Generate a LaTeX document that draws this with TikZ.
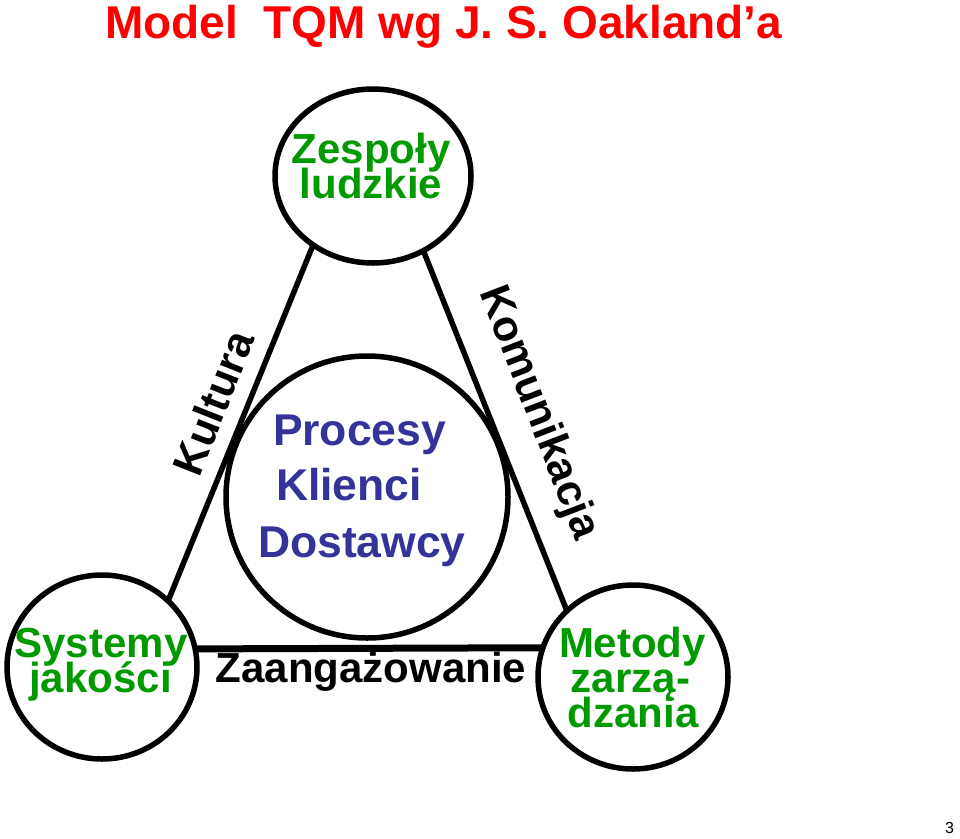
\documentclass[tikz,border=0pt]{standalone}
\usepackage{fontspec}
\setmainfont{Liberation Sans}
\usetikzlibrary{shapes.geometric}
\definecolor{tqmred}{RGB}{255,0,0}
\definecolor{tqmgreen}{RGB}{0,153,0}
\definecolor{tqmblue}{RGB}{51,51,153}
\begin{document}
\begin{tikzpicture}[x=1pt,y=-1pt,
  ring/.style={draw=black,line width=5.5pt,ellipse,inner sep=0pt,outer sep=0pt},
  link/.style={draw=black,line width=5.5pt},
  txt/.style={inner sep=0pt,outer sep=0pt,font=\bfseries\fontsize{42}{42}\selectfont},
  green/.style={txt,text=tqmgreen,anchor=base},
  blue/.style={txt,text=tqmblue,anchor=base west,font=\bfseries\fontsize{44.5}{44.5}\selectfont},
  lab/.style={txt,text=black,font=\bfseries\fontsize{43}{43}\selectfont}]
\useasboundingbox[fill=white] (0,0) rectangle (960,838);
% title
\node[txt,text=tqmred,anchor=base west,font=\bfseries\fontsize{46}{46}\selectfont] (title) at (105,38) {Model\ \ TQM wg J. S. Oakland’a};
% ellipses
\node[ring,minimum width=196pt,minimum height=174pt] (top) at (373,176) {};
\node[ring,minimum width=282pt,minimum height=282pt] (mid) at (367,497) {};
\node[ring,minimum width=190pt,minimum height=184pt] (bl) at (102,667) {};
\node[ring,minimum width=190pt,minimum height=184pt] (br) at (633,677) {};
% connectors
\draw[link] (top.229.6) -- (bl.45);
\draw[link] (top.304.4) -- (br.135.4);
\draw[link,line width=7pt] (bl.11.5) -- (br.162);
% texts
\node[green] (t1) at (371,163) {Zespoły};
\node[green] (t2) at (371,198) {ludzkie};
\node[blue] (m1) at (273,445) {Procesy};
\node[blue] (m2) at (276,500) {Klienci};
\node[blue] (m3) at (258,557) {Dostawcy};
\node[green] (s1) at (101,657) {Systemy};
\node[green] (s2) at (100.5,692) {jakości};
\node[green] (z1) at (632.5,657) {Metody};
\node[green] (z2) at (630.5,692) {zarzą-};
\node[green] (z3) at (633,727) {dzania};
\node[lab,rotate=68.4] (kult) at (213,403) {Kultura};
\node[lab,rotate=-68.9] (kom) at (538,413) {Komunikacja};
\node[lab,anchor=base,font=\bfseries\fontsize{42}{42}\selectfont] (zaang) at (371,682) {Zaangażowanie};
\node[inner sep=0pt,anchor=base west,font=\fontsize{16}{16}\selectfont] (pg) at (945,833) {3};
\end{tikzpicture}
\end{document}
